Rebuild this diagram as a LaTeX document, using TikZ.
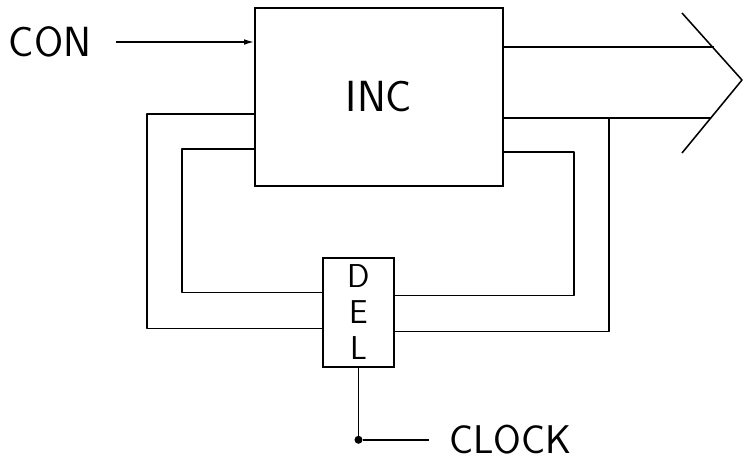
\documentclass[tikz,border=0pt]{standalone}
\usepackage{tikz}
\usetikzlibrary{arrows.meta,positioning,calc}

\begin{document}
\begin{tikzpicture}[
    x=0.025cm, y=-0.025cm,
    ln/.style={line width=1.1pt, line join=round},
    arr/.style={ln, -{Latex[length=0.25cm, width=0.14cm]}},
    blk/.style={draw, line width=1.1pt, inner sep=0pt, minimum width=6.2cm, minimum height=4.45cm, font=\sffamily\fontsize{31}{33}\selectfont},
    delbox/.style={draw, line width=1.1pt, inner sep=0pt, minimum width=1.775cm, minimum height=2.725cm, align=center, font=\sffamily\fontsize{23.5}{25.6}\selectfont},
    lbl/.style={inner sep=0pt, font=\sffamily\fontsize{30}{32}\selectfont},
    dot/.style={circle, fill=black, inner sep=0pt, minimum size=0.2cm}
]
\useasboundingbox (0,0) rectangle (744,460);

\node[blk] (inc) at (379,97) {INC};
\node[delbox] (del) at (358.5,312.5) {D\\E\\L};
\node[lbl] (con) at (50,42) {CON};
\node[dot] (clkdot) at ($(del.south)+(0,72)$) {};
\node[lbl, right=2.15cm of clkdot, font=\sffamily\fontsize{28.5}{30}\selectfont] (clk) {CLOCK};

\coordinate (tip1) at (714,47);
\coordinate (tip2) at (711,118);
\coordinate (tap) at ($(inc.east)+(105,21)$);
\coordinate (chevtop) at (682,13);
\coordinate (chevtip) at (742,80);
\coordinate (chevbot) at (682,153);

\draw[arr, shorten <=0.6cm] (con.east) -- ($(inc.west)+(0,-55)$);
\draw[ln] (inc.east |- tip1) -- (tip1);
\draw[ln] (inc.east |- tip2) -- (tip2);
\draw[ln] (chevtop) -- (chevtip) -- (chevbot);

\draw[ln] ($(inc.west)+(0,17)$) -| ($(del.west)+(-175,16)$) -- ($(del.west)+(0,16)$);
\draw[ln] ($(inc.west)+(0,52)$) -| ($(del.west)+(-140,-20)$) -- ($(del.west)+(0,-20)$);
\draw[ln] ($(inc.east)+(0,55)$) -| ($(del.east)+(179,-17)$) -- ($(del.east)+(0,-17)$);
\draw[ln] ($(del.east)+(0,19)$) -| (tap);

\draw[ln] (del.south) -- (clkdot);
\draw[ln, shorten >=0.5cm] (clkdot) -- (clk.west);
\end{tikzpicture}
\end{document}
